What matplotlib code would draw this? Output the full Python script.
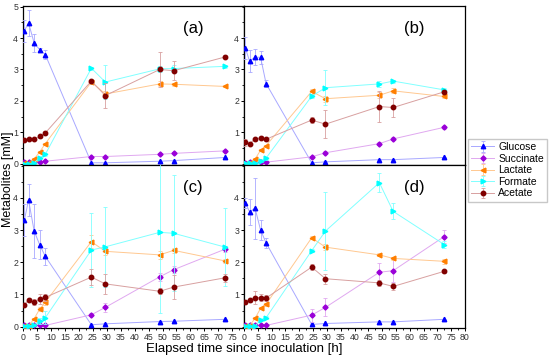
import matplotlib.pyplot as plt
from matplotlib.ticker import MultipleLocator, FixedLocator

plt.rcParams['font.family'] = ['Liberation Sans', 'DejaVu Sans']

# sampling times [h]
time = [0.5, 2, 4, 6, 8, 24.5, 29.5, 49, 54, 72.5]

names = ['Glucose', 'Succinate', 'Lactate', 'Formate', 'Acetate']
panels = ['(a)', '(b)', '(c)', '(d)']

# values per panel (a, b, c, d) in mM
glucose_a = [4.24, 4.48, 3.84, 3.63, 3.47, 0.03, 0.03, 0.08, 0.1, 0.2]
glucose_b = [3.68, 3.27, 3.39, 3.39, 2.55, 0.03, 0.06, 0.13, 0.13, 0.2]
glucose_c = [3.32, 3.93, 2.97, 2.54, 2.18, 0.06, 0.09, 0.16, 0.17, 0.23]
glucose_d = [3.84, 3.57, 3.68, 3.0, 2.6, 0.07, 0.1, 0.15, 0.15, 0.23]

succinate_a = [0.05, 0.05, 0.05, 0.06, 0.08, 0.23, 0.23, 0.3, 0.33, 0.41]
succinate_b = [0.03, 0.04, 0.04, 0.05, 0.05, 0.22, 0.35, 0.64, 0.79, 1.16]
succinate_c = [0.04, 0.04, 0.04, 0.04, 0.04, 0.37, 0.6, 1.55, 1.77, 2.41]
succinate_d = [0.04, 0.04, 0.04, 0.04, 0.04, 0.36, 0.6, 1.69, 1.74, 2.8]

lactate_a = [0.02, 0.03, 0.15, 0.38, 0.64, 2.6, 2.22, 2.54, 2.53, 2.46]
lactate_b = [0.0, 0.03, 0.15, 0.43, 0.58, 2.3, 2.07, 2.18, 2.32, 2.14]
lactate_c = [0.03, 0.03, 0.25, 0.55, 0.76, 2.64, 2.34, 2.23, 2.37, 2.04]
lactate_d = [0.03, 0.03, 0.26, 0.57, 0.7, 2.76, 2.47, 2.23, 2.12, 2.03]

formate_a = [0.0, 0.0, 0.03, 0.19, 0.3, 3.04, 2.6, 3.02, 3.03, 3.1]
formate_b = [0.01, 0.01, 0.01, 0.1, 0.18, 2.15, 2.42, 2.54, 2.63, 2.35]
formate_c = [0.03, 0.03, 0.05, 0.17, 0.28, 2.38, 2.48, 2.93, 2.9, 2.47]
formate_d = [0.01, 0.01, 0.01, 0.22, 0.28, 2.36, 2.97, 4.47, 3.58, 2.55]

acetate_a = [0.75, 0.79, 0.79, 0.87, 0.98, 2.63, 2.17, 3.0, 2.96, 3.4]
acetate_b = [0.68, 0.64, 0.78, 0.83, 0.78, 1.39, 1.26, 1.82, 1.79, 2.29]
acetate_c = [0.68, 0.83, 0.76, 0.86, 0.91, 1.54, 1.33, 1.1, 1.23, 1.52]
acetate_d = [0.77, 0.82, 0.9, 0.9, 0.89, 1.85, 1.49, 1.36, 1.25, 1.72]

# standard deviations (estimated from the error bars)
glucose_a_err = [0.35, 0.4, 0.28, 0.05, 0.15, 0.02, 0.02, 0.02, 0.02, 0.02]
glucose_b_err = [0.35, 0.35, 0.25, 0.2, 0.1, 0.02, 0.02, 0.02, 0.02, 0.02]
glucose_c_err = [0.5, 0.5, 0.85, 0.45, 0.27, 0.02, 0.02, 0.02, 0.02, 0.02]
glucose_d_err = [0.15, 0.4, 0.95, 0.3, 0.15, 0.02, 0.02, 0.02, 0.02, 0.02]

succinate_a_err = [0.02, 0.02, 0.02, 0.02, 0.02, 0.03, 0.03, 0.03, 0.03, 0.03]
succinate_b_err = [0.02, 0.02, 0.02, 0.02, 0.02, 0.03, 0.05, 0.05, 0.05, 0.05]
succinate_c_err = [0.02, 0.02, 0.02, 0.02, 0.02, 0.05, 0.15, 0.12, 0.1, 0.1]
succinate_d_err = [0.02, 0.02, 0.02, 0.02, 0.02, 0.2, 0.28, 0.3, 0.35, 0.2]

lactate_a_err = [0.02, 0.02, 0.03, 0.03, 0.03, 0.05, 0.1, 0.08, 0.05, 0.03]
lactate_b_err = [0.02, 0.02, 0.03, 0.03, 0.03, 0.08, 0.1, 0.1, 0.08, 0.05]
lactate_c_err = [0.02, 0.02, 0.03, 0.05, 0.08, 0.2, 0.1, 0.12, 0.08, 0.05]
lactate_d_err = [0.02, 0.02, 0.03, 0.03, 0.05, 0.05, 0.1, 0.05, 0.05, 0.08]

formate_a_err = [0.02, 0.02, 0.02, 0.03, 0.05, 0.05, 0.55, 0.1, 0.1, 0.05]
formate_b_err = [0.02, 0.02, 0.02, 0.03, 0.05, 0.05, 0.55, 0.1, 0.05, 0.05]
formate_c_err = [0.02, 0.02, 0.02, 0.1, 0.2, 1.15, 1.25, 2.5, 1.8, 1.2]
formate_d_err = [0.02, 0.02, 0.02, 0.03, 0.05, 0.05, 1.2, 0.3, 0.25, 0.1]

acetate_a_err = [0.05, 0.03, 0.03, 0.05, 0.05, 0.05, 0.4, 0.55, 0.3, 0.05]
acetate_b_err = [0.1, 0.03, 0.05, 0.05, 0.05, 0.1, 0.45, 0.5, 0.3, 0.05]
acetate_c_err = [0.05, 0.05, 0.1, 0.15, 0.1, 0.25, 0.3, 0.1, 0.38, 0.12]
acetate_d_err = [0.05, 0.05, 0.2, 0.1, 0.1, 0.1, 0.15, 0.1, 0.1, 0.05]

values = [
    [glucose_a, succinate_a, lactate_a, formate_a, acetate_a],
    [glucose_b, succinate_b, lactate_b, formate_b, acetate_b],
    [glucose_c, succinate_c, lactate_c, formate_c, acetate_c],
    [glucose_d, succinate_d, lactate_d, formate_d, acetate_d],
]
errors = [
    [glucose_a_err, succinate_a_err, lactate_a_err, formate_a_err, acetate_a_err],
    [glucose_b_err, succinate_b_err, lactate_b_err, formate_b_err, acetate_b_err],
    [glucose_c_err, succinate_c_err, lactate_c_err, formate_c_err, acetate_c_err],
    [glucose_d_err, succinate_d_err, lactate_d_err, formate_d_err, acetate_d_err],
]

colors = ['#0000ff', '#9a00d8', '#ff7f00', '#00ffff', '#800000']
pale = ['#a8a8ff', '#e0a8f0', '#ffc890', '#80ffff', '#d8a0a0']
markers = ['^', 'D', '<', '>', 'o']
msizes = [3.2, 2.6, 3.4, 3.4, 3.2]

fig = plt.figure(figsize=(5.5, 3.58), dpi=100)
x0, xm, x1 = 23 / 550, 244 / 550, 465 / 550
y0, ym, y1 = 1 - 328 / 358, 1 - 165 / 358, 1 - 6 / 358
rects = [
    [x0, ym, xm - x0, y1 - ym],
    [xm, ym, x1 - xm, y1 - ym],
    [x0, y0, xm - x0, ym - y0],
    [xm, y0, x1 - xm, ym - y0],
]

handles = []
for i, r in enumerate(rects):
    ax = fig.add_axes(r)
    for k in range(5):
        h = ax.errorbar(time, values[i][k], yerr=errors[i][k], color=pale[k], lw=0.7,
                        marker=markers[k], ms=msizes[k], mfc=colors[k], mec=colors[k],
                        ecolor=pale[k], elinewidth=0.6, capsize=1.3, capthick=0.6,
                        label=names[k], zorder=3 + k)
        if i == 0:
            handles.append(h)
    ax.set_xlim(0, 79.2 if i % 2 == 0 else 80)
    ax.set_ylim(-0.04, 5.02)
    ax.xaxis.set_major_locator(MultipleLocator(5))
    ax.xaxis.set_minor_locator(MultipleLocator(2.5))
    ax.yaxis.set_minor_locator(MultipleLocator(0.5))
    if i == 0:
        ax.yaxis.set_major_locator(FixedLocator([0, 1, 2, 3, 4, 5]))
    elif i == 2:
        ax.yaxis.set_major_locator(FixedLocator([0, 1, 2, 3, 4]))
    else:
        ax.yaxis.set_major_locator(FixedLocator([1, 2, 3, 4]))
    ax.tick_params(which='major', length=2.5, width=0.7, labelsize=6.3,
                   labelcolor='#333333', pad=1)
    ax.tick_params(which='minor', length=1.5, width=0.6)
    if i < 2:
        ax.tick_params(axis='x', labelbottom=False)
    for s in ax.spines.values():
        s.set_linewidth(0.9)
    ax.text(0.77, 0.86, panels[i], transform=ax.transAxes, fontsize=12,
            ha='center', va='center')

fig.text(0.014, 0.5, 'Metabolites [mM]', rotation=90, fontsize=9,
         ha='center', va='center')
fig.text(0.445, 0.024, 'Elapsed time since inoculation [h]', fontsize=9.5,
         ha='center', va='center')

fig.legend(handles=handles, labels=names, loc='upper left',
           bbox_to_anchor=(468 / 550, 1 - 139 / 358), fontsize=7.5,
           frameon=True, fancybox=False, edgecolor='#bbbbbb',
           handlelength=2.2, borderpad=0.3, labelspacing=0.15,
           handletextpad=0.4, borderaxespad=0)

fig.savefig('out.png', dpi=100)
